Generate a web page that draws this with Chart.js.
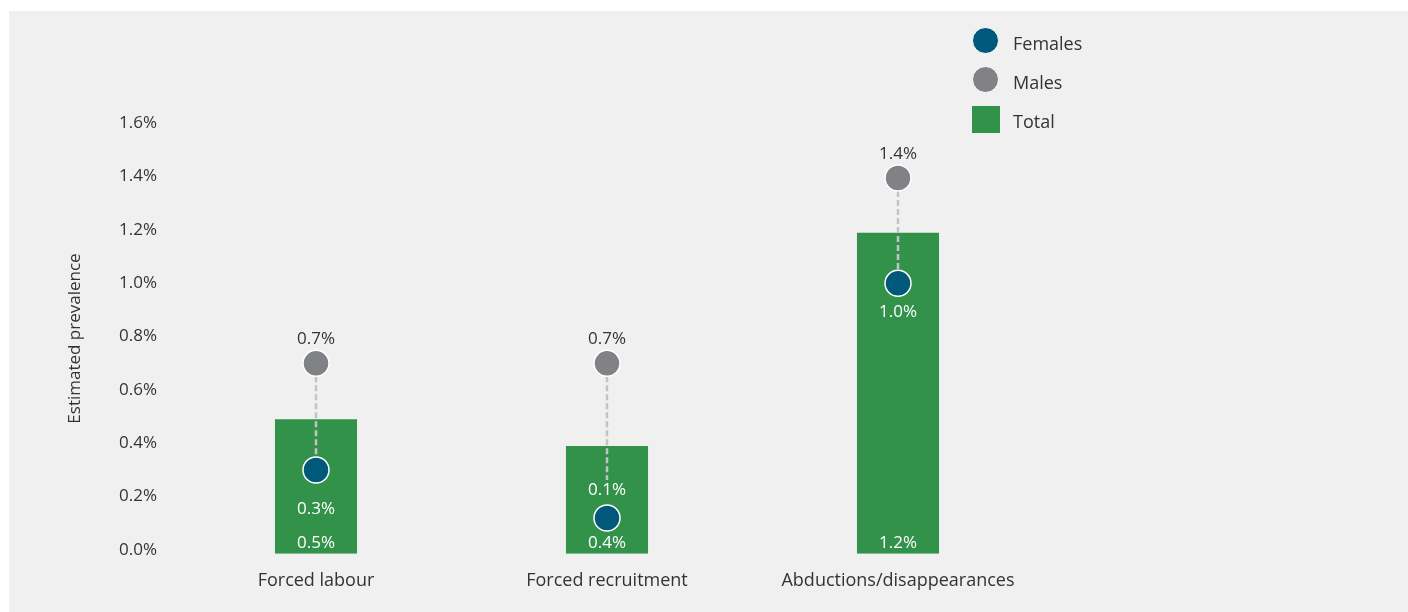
<!DOCTYPE html>
<html>
<head>
<meta charset="utf-8">
<script src="https://cdn.jsdelivr.net/npm/chart.js@4/dist/chart.umd.min.js"></script>
<style>
  body { margin: 0; background: #fff; font-family: "Open Sans", sans-serif; }
  #panel { position: absolute; left: 9px; top: 11px; width: 1399px; height: 601px; background: #eff0ef; }
  #legend { position: absolute; left: 972px; top: 27px; color: #333; font-size: 18px; }
  .item { position: relative; height: 39px; }
  .sw { position: absolute; left: 0; top: 0; width: 27px; height: 27px; border-radius: 50%; border: 1px solid #fff; box-sizing: border-box; }
  .sq { border-radius: 0; border: none; width: 28px; height: 27px; top: 1px; }
  .item span { position: absolute; left: 41px; top: 4px; white-space: nowrap; }
</style>
</head>
<body>
<div id="panel"><canvas id="chart" width="1399" height="601"></canvas></div>
<div id="legend"></div>
<script>
const categories = ['Forced labour', 'Forced recruitment', 'Abductions/disappearances'];
const females = [0.30, 0.12, 1.00];
const males = [0.70, 0.70, 1.395];
const totals = [0.49, 0.39, 1.19];
const yTicks = [0, 0.2, 0.4, 0.6, 0.8, 1.0, 1.2, 1.4, 1.6];

const GREEN = '#33924a', BLUE = '#00587b', GREY = '#818285', TEXT = '#333';
const Y_MIN = -0.014;
// where each female label sits relative to its point (px, + is below)
const femaleLabelDy = [39, -28, 29];

Chart.defaults.font.family = '"Open Sans", sans-serif';
Chart.defaults.color = TEXT;

function pct(v) {
    return v.toFixed(1) + '%';
}

const connectors = {
    id: 'connectors',
    afterDatasetDraw(chart, args) {
        if (args.index !== 2) return;
        const ctx = chart.ctx;
        const fem = chart.getDatasetMeta(0).data;
        const mal = chart.getDatasetMeta(1).data;
        ctx.save();
        ctx.strokeStyle = '#c3c3c3';
        ctx.lineWidth = 2.5;
        ctx.setLineDash([6, 3]);
        for (let i = 0; i < mal.length; i++) {
            let y1 = mal[i].y + 13;
            let y2 = femaleLabelDy[i] < 0 ? fem[i].y + femaleLabelDy[i] - 10 : fem[i].y - 13;
            ctx.beginPath();
            ctx.moveTo(mal[i].x, y1);
            ctx.lineTo(mal[i].x, y2);
            ctx.stroke();
        }
        ctx.restore();
    }
};

const valueLabels = {
    id: 'valueLabels',
    afterDatasetsDraw(chart) {
        const ctx = chart.ctx;
        const fem = chart.getDatasetMeta(0).data;
        const mal = chart.getDatasetMeta(1).data;
        const bars = chart.getDatasetMeta(2).data;
        ctx.save();
        ctx.font = '17px "Open Sans", sans-serif';
        ctx.textAlign = 'center';
        ctx.textBaseline = 'middle';
        for (let i = 0; i < categories.length; i++) {
            ctx.fillStyle = TEXT;
            ctx.fillText(pct(males[i]), mal[i].x, mal[i].y - 24);
            ctx.fillStyle = '#fff';
            ctx.fillText(pct(females[i]), fem[i].x, fem[i].y + femaleLabelDy[i]);
            ctx.fillText(pct(totals[i]), bars[i].x, bars[i].base - 11);
        }
        ctx.restore();
    }
};

let chart = new Chart(document.getElementById('chart').getContext('2d'), {
    type: 'bar',
    data: {
        labels: categories,
        datasets: [
            {
                type: 'line', label: 'Females', data: females, order: 1, showLine: false,
                pointRadius: 13, pointHoverRadius: 13, pointBackgroundColor: BLUE,
                pointBorderColor: '#fff', pointBorderWidth: 1.5, backgroundColor: BLUE
            },
            {
                type: 'line', label: 'Males', data: males, order: 2, showLine: false,
                pointRadius: 13, pointHoverRadius: 13, pointBackgroundColor: GREY,
                pointBorderColor: '#fff', pointBorderWidth: 1.5, backgroundColor: GREY
            },
            {
                label: 'Total', data: totals, order: 3, backgroundColor: GREEN,
                base: Y_MIN, barPercentage: 0.282, categoryPercentage: 1
            }
        ]
    },
    options: {
        responsive: false,
        animation: false,
        events: [],
        layout: { padding: { top: 112.3, right: 364.5, left: 0, bottom: 0 } },
        plugins: { legend: { display: false }, tooltip: { enabled: false } },
        scales: {
            x: {
                grid: { display: false, drawTicks: false },
                border: { display: false },
                ticks: { padding: 16, font: { size: 18 }, color: TEXT },
                afterFit(scale) { scale.height = 58.3; }
            },
            y: {
                min: Y_MIN,
                max: 1.6,
                grid: { display: false, drawTicks: false },
                border: { display: false },
                afterBuildTicks(scale) { scale.ticks = yTicks.map(v => ({value: v})); },
                ticks: { padding: 13.5, font: { size: 17 }, color: TEXT, callback: v => pct(v) },
                title: {
                    display: true, text: 'Estimated prevalence', color: TEXT,
                    font: { size: 17 }, padding: { top: 56, bottom: 0 }
                },
                afterFit(scale) { scale.width = 161.5; }
            }
        }
    },
    plugins: [connectors, valueLabels]
});

// legend
const legendEl = document.getElementById('legend');
chart.data.datasets.forEach((ds, i) => {
    let item = document.createElement('div');
    item.className = 'item';
    let sw = document.createElement('div');
    sw.className = i === 2 ? 'sw sq' : 'sw';
    sw.style.background = ds.backgroundColor;
    let label = document.createElement('span');
    label.textContent = ds.label;
    item.appendChild(sw);
    item.appendChild(label);
    legendEl.appendChild(item);
});
</script>
</body>
</html>
